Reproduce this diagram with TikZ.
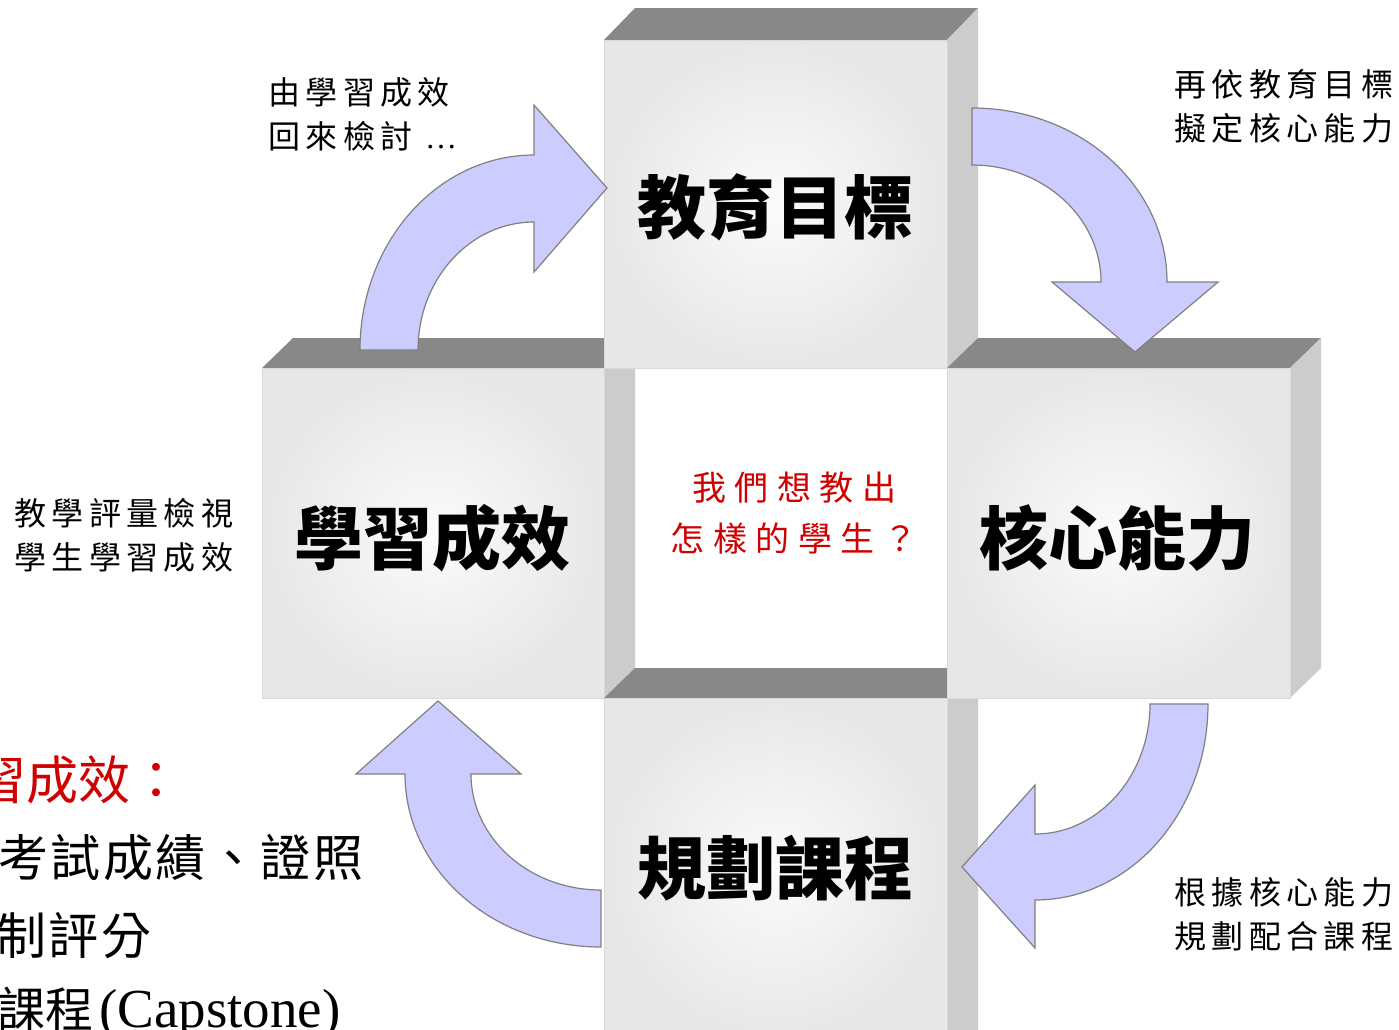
\documentclass[tikz,border=0pt]{standalone}
\usepackage{fontspec}
\setmainfont{Liberation Serif}
\newfontfamily\cjk{Noto Sans CJK TC}
\newfontfamily\cjkls[LetterSpace=17]{Noto Sans CJK TC}
\newfontfamily\cjkc[LetterSpace=25]{Noto Sans CJK TC}
\newfontfamily\cjkm[LetterSpace=5]{Noto Sans CJK TC}
\definecolor{topgray}{RGB}{136,136,136}
\definecolor{sidegray}{RGB}{204,204,204}
\definecolor{arrowfill}{RGB}{204,204,255}
\definecolor{arrowline}{RGB}{128,128,128}
\definecolor{redtext}{RGB}{208,0,0}
\definecolor{facein}{RGB}{251,251,251}
\definecolor{faceout}{RGB}{231,231,231}
\begin{document}
\begin{tikzpicture}[x=1pt,y=-1pt,
  topface/.style={fill=topgray},
  sideface/.style={fill=sidegray},
  frontface/.style={inner color=facein, outer color=faceout, draw=black!15, line width=0.8pt},
  bigarrow/.style={fill=arrowfill, draw=arrowline, line width=1.2pt, line join=miter},
  boxlabel/.style={font=\cjk\bfseries\fontsize{69}{69}\selectfont, inner sep=0pt, anchor=base},
  sidelabel/.style={font=\cjkls\fontsize{32}{32}\selectfont, inner sep=0pt, anchor=base west},
  centerlabel/.style={font=\cjkc\fontsize{34}{34}\selectfont, text=redtext, inner sep=0pt, anchor=base},
  listlabel/.style={font=\cjkm\fontsize{50}{50}\selectfont, inner sep=0pt, anchor=base west}]
\useasboundingbox (0,0) rectangle (1399,1029);
\clip (0,0) rectangle (1399,1029);
\fill[white] (0,0) rectangle (1399,1029);

% left box
\fill[topface] (262,368) -- (293,338) -- (635,338) -- (604,368) -- cycle;
\fill[sideface] (604,368) -- (635,338) -- (635,668) -- (604,698) -- cycle;
\shadedraw[frontface] (262,368) rectangle (604,698);

% top box
\fill[topface] (604,40) -- (635,8) -- (978,8) -- (947,40) -- cycle;
\fill[sideface] (947,40) -- (978,8) -- (978,338) -- (947,368) -- cycle;
\shadedraw[frontface] (604,40) rectangle (947,368);

% bottom box
\fill[topface] (604,698) -- (635,668) -- (978,668) -- (947,698) -- cycle;
\fill[sideface] (947,698) -- (978,668) -- (978,1040) -- (947,1040) -- cycle;
\shadedraw[frontface] (604,698) rectangle (947,1040);

% right box
\fill[topface] (947,368) -- (978,338) -- (1321,338) -- (1290,368) -- cycle;
\fill[sideface] (1290,368) -- (1321,338) -- (1321,668) -- (1290,698) -- cycle;
\shadedraw[frontface] (947,368) rectangle (1290,698);

% box labels
\node[boxlabel] (goal) at (775,233) {教育目標};
\node[boxlabel] (outcome) at (432,564) {學習成效};
\node[boxlabel] (core) at (1117,564) {核心能力};
\node[boxlabel] (course) at (775,894) {規劃課程};

% center question
\node[centerlabel] (q1) at (794,500) {我們想教出};
\node[centerlabel] (q2) at (794,551) {怎樣的學生？};

% arrows
\draw[bigarrow] (360,350) arc[start angle=180, end angle=270, x radius=174, y radius=195]
  -- (534,105) -- (607,188) -- (534,272) -- (534,222)
  arc[start angle=270, end angle=180, x radius=116, y radius=128] -- cycle;
\draw[bigarrow] (972,108) arc[start angle=270, end angle=360, x radius=195, y radius=174]
  -- (1218,282) -- (1135,352) -- (1052,282) -- (1101,282)
  arc[start angle=360, end angle=270, x radius=129, y radius=117] -- cycle;
\draw[bigarrow] (1208,704) arc[start angle=0, end angle=90, x radius=173, y radius=196]
  -- (1035,948) -- (962,867) -- (1035,785) -- (1035,834)
  arc[start angle=90, end angle=0, x radius=115, y radius=130] -- cycle;
\draw[bigarrow] (601,947) arc[start angle=90, end angle=180, x radius=196, y radius=173]
  -- (356,774) -- (438,701) -- (521,774) -- (471,774)
  arc[start angle=180, end angle=90, x radius=130, y radius=116] -- cycle;

% side labels
\node[sidelabel] (tl1) at (268,104) {由學習成效};
\node[sidelabel] (tl2) at (268,148) {回來檢討 \rmfamily\fontsize{32}{32}\selectfont…};
\node[sidelabel] (tr1) at (1174,96) {再依教育目標};
\node[sidelabel] (tr2) at (1174,140) {擬定核心能力};
\node[sidelabel] (ml1) at (14,525) {教學評量檢視};
\node[sidelabel] (ml2) at (14,569) {學生學習成效};
\node[sidelabel] (br1) at (1174,904) {根據核心能力};
\node[sidelabel] (br2) at (1174,948) {規劃配合課程};

% bottom-left list (cut by the picture edge, as in the reference)
\node[listlabel, text=redtext, font=\cjk\fontsize{52}{52}\selectfont] (h1) at (-26,799) {習成效：};
\node[listlabel] (l2) at (-2,876) {考試成績、證照};
\node[listlabel] (l3) at (-4,954) {制評分};
\node[listlabel, font=\cjk\fontsize{48}{48}\selectfont] (l4) at (-3,1027) {課程\hspace{6pt}{\rmfamily\fontsize{55}{55}\selectfont(Capstone)}};
\end{tikzpicture}
\end{document}
